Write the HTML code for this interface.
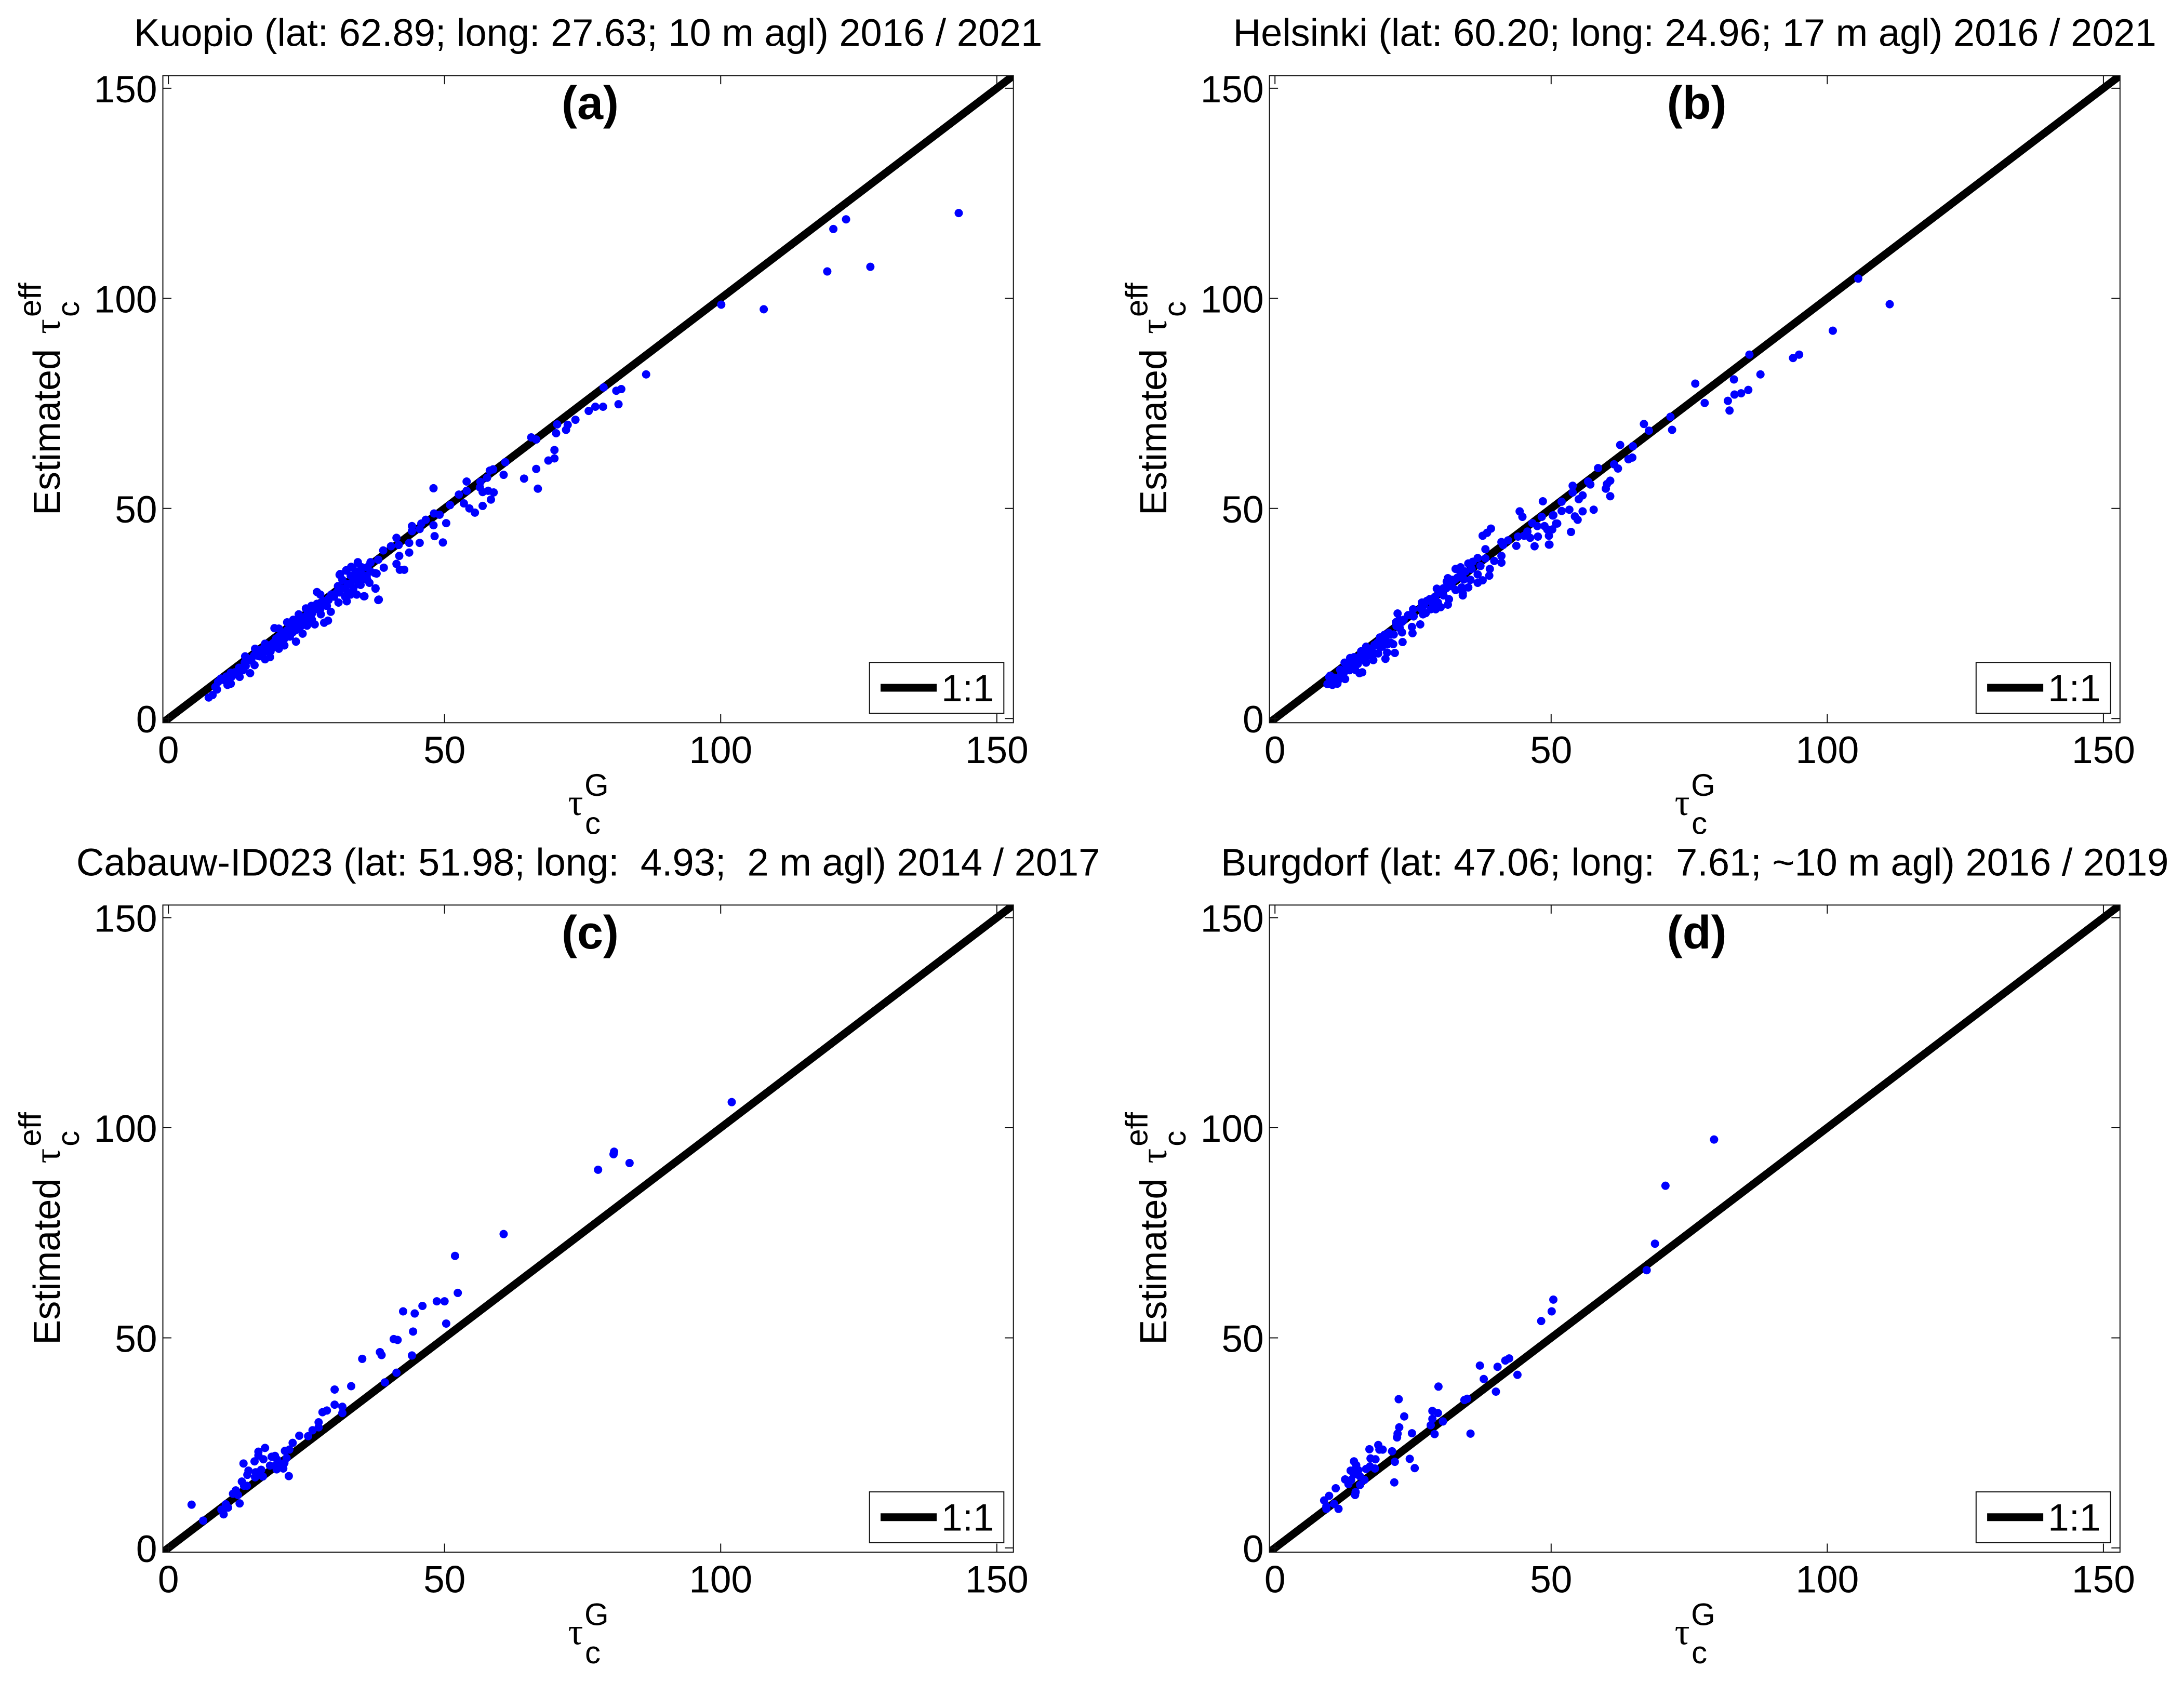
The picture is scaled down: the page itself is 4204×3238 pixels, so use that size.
<!DOCTYPE html>
<html lang="en">
<head>
<meta charset="utf-8">
<title>Estimated vs. global cloud optical depth scatter panels</title>
<style>
html,body{margin:0;padding:0;background:#fff;}
svg{display:block;font-family:"Liberation Sans",Arial,sans-serif;}
</style>
</head>
<body>
<svg id="figure" xmlns="http://www.w3.org/2000/svg" width="4204" height="3238" viewBox="0 0 4204 3238">
<rect x="0" y="0" width="4204" height="3238" fill="#ffffff"/>
</svg>
<script>
const axisTicks = [0, 50, 100, 150];
const axisTickLabels = ["0", "50", "100", "150"];
const axisMin = -1;
const axisMax = 153;
const lineEnds = [-1, 153];
const legendLabel = "1:1";

const kuopioX = [
143.1,122.7,120.4,119.3,127.1,100.1,107.8,86.5,78.8,82,
81.1,81.5,78.7,77.3,76.1,73.7,72.3,72,70.4,70.2,
69.9,69.9,68.8,66.6,66.9,64.4,65.7,66.6,61,60.7,
58.8,58.2,57.7,58.9,57.9,58.4,56.9,56.9,55.5,54.5,
54,56.5,56.4,54,53.5,52.6,51,48,50.3,49.7,
49.1,48.1,48,48.2,46.6,45.8,45.5,44.1,44.1,43.6,
43.6,45.5,41.3,40.3,41.7,38.9,41.8,41.3,41.9,42.7,
39,38,36.6,38,37.5,35.4,37.4,35.9,34.3,33.1,
32.2,31.1,7.3,8,8.8,8.5,9,10.7,11.3,10.3,
11.3,12.9,14.8,12.8,13.9,13.8,15.6,15.7,16.5,17.5,
18.4,17.5,19.2,20,23.1,21,20,21.5,22.6,23.6,
24.9,25.9,26.9,24.3,25.1,26.5,26.9,27.5,27.6,28.2,
28.9,29.4,28.7,29,29.8,30.8,32.3,30.7,31,32.2,
33.2,34.3,36.6,34.8,37.7,36.4,37.5,35.5,38.1,34.1,
34.8,36.6,9.5,10,10.5,11.5,12,12.5,13,13.5,
14,14.5,15,15.5,16,16,16.5,17,17,17.5,
18,18,18.5,18.5,19,19,19.5,19.5,20,20,
20.5,20.5,21,21,21.5,21.5,22,22,22.5,22.5,
23,23,23.5,24,24,24.5,24.5,25,25,25.5,
26,26,27,27.5,28,30,30.5,31,31.5,31.5,
32,32,32.5,32.5,33,33,33,33.5,33.5,34,
34,34.5,34.5,35,35,35.5,36,36,26.5,27.5,
28,28.5,29,29.5,30];
const kuopioY = [
120.3,118.8,116.5,106.4,107.5,98.5,97.4,81.9,78.8,78.4,
78,74.8,74.2,74.2,73.2,71.1,69.9,68.7,70,67.9,
63.9,61.9,61.4,59.4,54.7,57.1,66.9,66.4,61,58,
59.3,59,57.3,53.8,54.2,52.1,53.9,50.6,49,50,
56.4,56.3,55,54.2,51.2,53.3,50.8,54.8,46.5,41.9,
48.5,48.8,46,43.4,47.3,46.4,45.1,45.8,44.6,41.8,
39.5,41.8,43,41,41.3,40,38.7,36.8,35.4,35.4,
35.9,37.8,37.2,28.2,30.9,29.1,34.6,33.7,37.2,36.1,
35.2,34.4,5,5.6,6.9,7.5,8.7,8,8.3,9.1,
10.9,9.9,10.8,12.1,14.8,13.3,12.7,16.6,16.3,14.1,
14.6,17.8,21.5,21.4,18.3,17.4,16.6,22.9,23.5,24.8,
26.2,26.8,27.3,20.2,22.1,22.4,30.1,29.5,24.8,22.8,
23.3,25.4,26.8,28.2,29.3,27.6,27.9,31.5,34.2,35.3,
36,37,37.1,35.3,34.5,32.3,31,29.1,28.3,29.5,
31.8,35,9.5,9.2,10,10,11,10.5,12,11.5,
12.5,14.2,13.8,15,15,15.8,14.8,16.5,15.5,16.8,
17,16,17.5,16,18,17,19,17.5,19.5,18,
20,18.5,20.5,19,21,19.5,21,19.5,22,20.5,
22.5,21,21.5,23.5,22,24,22.5,24.5,23.5,25,
25,23.5,26,26,27,29,30,30,31,33,
31,29,32,30,34,32,29.5,33.5,31,33,
35,32,34,36,33,34,33,36,26,27,
28,27.5,28.5,29.5,29.5];

const helsinkiX = [
9.5,10.4,11.3,9.8,10,10.8,12.7,12.6,11.8,13.6,
14.3,13.6,14.5,15.6,16.5,15.3,15.8,16.5,17.8,18.7,
19,19.8,20.6,20,20.3,21.7,19.4,20.4,21.4,23.1,
22.6,22.2,21.9,24.1,25.1,23.3,24.8,24.9,26.3,26.6,
26.4,26.8,27.3,28.2,28,29.1,30,29.5,31.3,31.5,
29.3,30.5,31.3,31.1,32,32.7,33.8,34,34,34.2,
35,35.4,36.7,37.6,36.7,38.8,38.9,32.7,33.6,33.6,
35,35.8,35.6,37.2,36.7,38.1,38.1,37.6,38.4,39.1,
39.7,41,41,41,41.3,42.2,43.7,44,44.3,44.8,
45.1,45.7,46.2,46.6,47,47.5,47.6,48.3,48.5,48.8,
49.3,49.6,49.7,50.2,50.3,51.1,105.6,111.3,101,94.9,
93.8,85.9,87.9,85.7,84.4,83.1,83.2,82,82.3,76.1,
77.8,71.9,71.6,67.7,66.8,64.8,62.5,64.7,64,62.1,
61.4,60.7,60.7,60.1,59.9,58.5,57.7,57.1,56.7,55.7,
55.7,55,54.8,54.3,53.6,53.9,53.9,53.3,51.9,51.9,
50.9,50.4,49.6,10.5,11.5,12,12.5,13,13.5,14,
14.5,15,15,15.5,16,16,16.5,17,17,17.5,
18,18,18.5,19,19.5,20,21,21,21.5,22,
22,22.5,23,23,25,27,27.5,28.5,29,30,
30.5,31,32,32.5,33,34,34.5];
const helsinkiY = [
8.2,8,8.3,9.9,10.2,9.7,9.4,13.3,11.6,14.4,
14.6,12.7,11.6,16,17.1,10.8,11,13.3,13.9,15.5,
19.3,19.9,20.4,14.2,15.7,15.6,17.1,17.7,17.7,18.2,
21.5,25,22.9,24.6,24.3,23.5,21.8,20.3,22.4,27.6,
26.2,24.8,25.1,26,28.4,26,26.5,27.6,27.1,28.4,
30.9,29.3,33.4,32.6,31.5,30.6,31.2,29.8,29.3,33.1,
31.2,33,32.3,32.9,34.3,34,35.6,35.6,36,34.8,
36.9,37.3,35.6,36.3,38.2,38.1,40.3,43.5,44.2,45.2,
37.5,38.7,37.1,42,41.3,42.4,41.1,43.3,49.3,48,
43.5,44.5,43,46.5,41,45.8,43.3,48,51.7,45.8,
45,43.5,41.4,45,48.3,46.4,104.7,98.6,92.3,86.6,
85.8,86.6,81.9,78.2,77.4,80.7,77.1,75.6,73.3,79.7,
75.1,68.7,71.8,68.5,70.1,64.8,65.1,62.1,61.7,59.5,
60.5,52.9,56.6,55.8,54.7,59.6,49.7,55.7,56.4,53.1,
49.3,52.2,47.3,48.1,44.4,55.4,53.8,49.7,49.4,51.6,
46.4,48.4,41.4,9,9.2,10.5,11,12,11.5,13,
13,14.5,13,15,15.5,14,16,16.5,15,16.5,
17.5,15.5,18,17,18,19,18,20,20,22,
23,23.5,23,20.5,26,27,28,27.5,29,30,
31,31,33,33,33.5,34.5,35];

const cabauwX = [
4.2,6.3,9.6,10,10.8,10.4,12.9,11.7,12.2,12.6,
13.3,13.7,14.2,13.6,14.3,14.5,15.6,15.7,15.8,16.4,
16.8,17.1,16.3,16.3,17.2,17.5,18.4,18.7,19.3,19.7,
19.5,19.6,20,20.8,21,21.4,21.8,21.1,21.9,22.5,
23.7,25.3,26.1,27.2,27.2,27.9,28.7,30.1,30.1,31.5,
31.5,33.1,35.1,38.3,38.6,39.2,40.8,41.5,41.3,44.1,
44.3,42.5,44.6,46,48.6,102,80.7,80.6,83.5,77.8,
60.7,51.9,52.4,50,50.3];
const cabauwY = [
10.3,6.5,9.1,8,9.6,10.4,10.6,12.9,13.7,12.6,
15.8,14.8,14.8,20.1,17.4,18.4,20.6,16.8,18,17.5,
18.6,17,22,22.9,21.1,23.8,19.6,21.7,21.9,21,
19.7,18.7,20.2,18.9,20.2,21.4,17.1,23.1,23.4,25,
26.7,26.6,28,28.7,29.9,32.3,32.7,34.1,37.7,33.6,
32.1,38.5,45,46.6,45.9,39.4,49.7,49.5,41.7,45.8,
51.5,56.3,55.8,57.6,58.7,106.1,94.3,93.7,91.6,90,
74.7,69.5,60.7,58.7,53.4];

const burgdorfX = [
9.3,9.3,8.9,9.8,10.7,11.5,11,14.5,14.6,14.3,
14.7,13.7,15.1,14.3,12.7,13.3,13.8,15.4,16.2,15.4,
16.5,17.2,18.1,17.1,17.3,18.2,18.7,18.9,19.5,21.2,
21.7,21.6,24.4,25.3,22.1,22.2,22.5,23.4,22.4,24.8,
28.9,28.2,28.5,28.5,29.5,29.6,30.4,34.3,34.8,35.4,
37.1,37.8,40,40.3,41.7,42.4,43.9,48.2,50.1,50.4,
79.5,70.7,68.8,67.3];
const burgdorfY = [
9.3,9.9,11.3,12.4,10.5,9.3,14.2,12.6,13.3,20.6,
19.7,18.4,18.5,17.5,16.3,15.2,16.2,17,16.2,15,
18.8,19.4,18.9,23.5,21.3,21.1,24.5,23.4,23.4,23,
20.5,15.6,21.2,19,26.3,27.2,28.7,31.3,35.4,27.3,
27.1,29.2,30.7,32.6,32.1,38.4,30.1,35.2,35.5,27.2,
43.4,40.2,37.2,43.1,44.6,45.1,41.2,54,56.3,59.1,
97.2,86.2,72.4,66.1];

const panelTitles = [
"Kuopio (lat: 62.89; long: 27.63; 10 m agl) 2016 / 2021",
"Helsinki (lat: 60.20; long: 24.96; 17 m agl) 2016 / 2021",
"Cabauw-ID023 (lat: 51.98; long:\u00A0 4.93;\u00A0 2 m agl) 2014 / 2017",
"Burgdorf (lat: 47.06; long:\u00A0 7.61; ~10 m agl) 2016 / 2019"];
const panelLetters = ["(a)", "(b)", "(c)", "(d)"];
const panelSeriesX = [kuopioX, helsinkiX, cabauwX, burgdorfX];
const panelSeriesY = [kuopioY, helsinkiY, cabauwY, burgdorfY];

const NS = "http://www.w3.org/2000/svg";
const figure = document.getElementById("figure");
const AXES_W = 1637.2, AXES_H = 1245.7;
const lefts = [313.5, 2443.6, 313.5, 2443.6];
const tops = [145.6, 145.6, 1742.3, 1742.3];
const TICK = 16.5, AXIS_COLOR = "#111111";
const TITLE_FONT = 74, TICK_FONT = 73, LABEL_FONT = 72, SUB = 60;

function make(parent, tag, attrs, text) {
  const node = document.createElementNS(NS, tag);
  for (const k in attrs) node.setAttribute(k, attrs[k]);
  if (text !== undefined) node.textContent = text;
  parent.appendChild(node);
  return node;
}

function drawPanel(i) {
  const L = lefts[i], T = tops[i], suffix = "abcd"[i];
  const sx = v => L + (v - axisMin) / (axisMax - axisMin) * AXES_W;
  const sy = v => T + AXES_H - (v - axisMin) / (axisMax - axisMin) * AXES_H;

  const g = make(figure, "g", {});
  
  

  const clip = make(g, "clipPath", {id: "clip-" + suffix});
  make(clip, "rect", {x: L, y: T, width: AXES_W, height: AXES_H});

  const title = make(g, "text", {x: L + AXES_W / 2, y: T - 57, "text-anchor": "middle", "font-size": TITLE_FONT, fill: "#000"}, panelTitles[i]);
  
  

  const refLine = make(g, "line", {x1: sx(lineEnds[0]), y1: sy(lineEnds[0]), x2: sx(lineEnds[1]), y2: sy(lineEnds[1]), stroke: "#000", "stroke-width": 15, "clip-path": "url(#clip-" + suffix + ")"});
  
  

  const frame = make(g, "rect", {x: L, y: T, width: AXES_W, height: AXES_H, fill: "none", stroke: AXIS_COLOR, "stroke-width": 2});
  
  

  axisTicks.forEach((tv, k) => {
    const xBottom = make(g, "line", {x1: sx(tv), y1: T + AXES_H, x2: sx(tv), y2: T + AXES_H - TICK, stroke: AXIS_COLOR, "stroke-width": 2});
    
    
    const xTop = make(g, "line", {x1: sx(tv), y1: T, x2: sx(tv), y2: T + TICK, stroke: AXIS_COLOR, "stroke-width": 2});
    
    
    const yLeft = make(g, "line", {x1: L, y1: sy(tv), x2: L + TICK, y2: sy(tv), stroke: AXIS_COLOR, "stroke-width": 2});
    
    
    const yRight = make(g, "line", {x1: L + AXES_W, y1: sy(tv), x2: L + AXES_W - TICK, y2: sy(tv), stroke: AXIS_COLOR, "stroke-width": 2});
    
    
    const xLab = make(g, "text", {x: sx(tv), y: T + 1323.4, "text-anchor": "middle", "font-size": TICK_FONT, fill: "#000"}, axisTickLabels[k]);
    
    
    const yLab = make(g, "text", {x: L - 11, y: sy(tv) + 27, "text-anchor": "end", "font-size": TICK_FONT, fill: "#000"}, axisTickLabels[k]);
    
    
  });

  const xs = panelSeriesX[i], ys = panelSeriesY[i];
  const points = make(g, "g", {fill: "#0000ff"});
  
  
  xs.forEach((xv, k) => {
    const dot = make(points, "circle", {cx: sx(xv), cy: sy(ys[k]), r: 8});
    
    
  });

  const letter = make(g, "text", {x: L + 822.5, y: T + 83.5, "text-anchor": "middle", "font-size": 90, "font-weight": "bold", fill: "#000"}, panelLetters[i]);
  
  

  const legend = make(g, "g", {});
  
  
  const legendBox = make(legend, "rect", {x: L + 1360.2, y: T + 1129.7, width: 258.6, height: 97.7, fill: "#fff", stroke: AXIS_COLOR, "stroke-width": 2});
  
  
  const legendLine = make(legend, "line", {x1: L + 1381.5, y1: T + 1178.4, x2: L + 1489.5, y2: T + 1178.4, stroke: "#000", "stroke-width": 15});
  
  
  const legendText = make(legend, "text", {x: L + 1498.5, y: T + 1204.4, "font-size": TICK_FONT, fill: "#000"}, legendLabel);
  
  

  const xTitle = make(g, "g", {fill: "#000"});
  
  
  make(xTitle, "text", {x: L + 780, y: T + 1423.4, "font-size": LABEL_FONT, "font-family": "Liberation Serif, serif"}, "\u03C4");
  make(xTitle, "text", {x: L + 811.5, y: T + 1386.4, "font-size": SUB}, "G");
  make(xTitle, "text", {x: L + 812.5, y: T + 1459.9, "font-size": SUB}, "c");

  const yTitle = make(g, "g", {fill: "#000"});
  
  
  const baseX = L - 198.5;
  const rot = (x, y) => "rotate(-90 " + x + " " + y + ")";
  make(yTitle, "text", {x: baseX, y: T + 846.4, "font-size": LABEL_FONT, transform: rot(baseX, T + 846.4)}, "Estimated");
  make(yTitle, "text", {x: baseX, y: T + 497.4, "font-size": LABEL_FONT, "font-family": "Liberation Serif, serif", transform: rot(baseX, T + 497.4)}, "\u03C4");
  make(yTitle, "text", {x: baseX - 36.7, y: T + 464.4, "font-size": SUB, transform: rot(baseX - 36.7, T + 464.4)}, "eff");
  make(yTitle, "text", {x: baseX + 37, y: T + 464.4, "font-size": SUB, transform: rot(baseX + 37, T + 464.4)}, "c");
}

for (let i = 0; i < 4; i++) drawPanel(i);
</script>
</body>
</html>
